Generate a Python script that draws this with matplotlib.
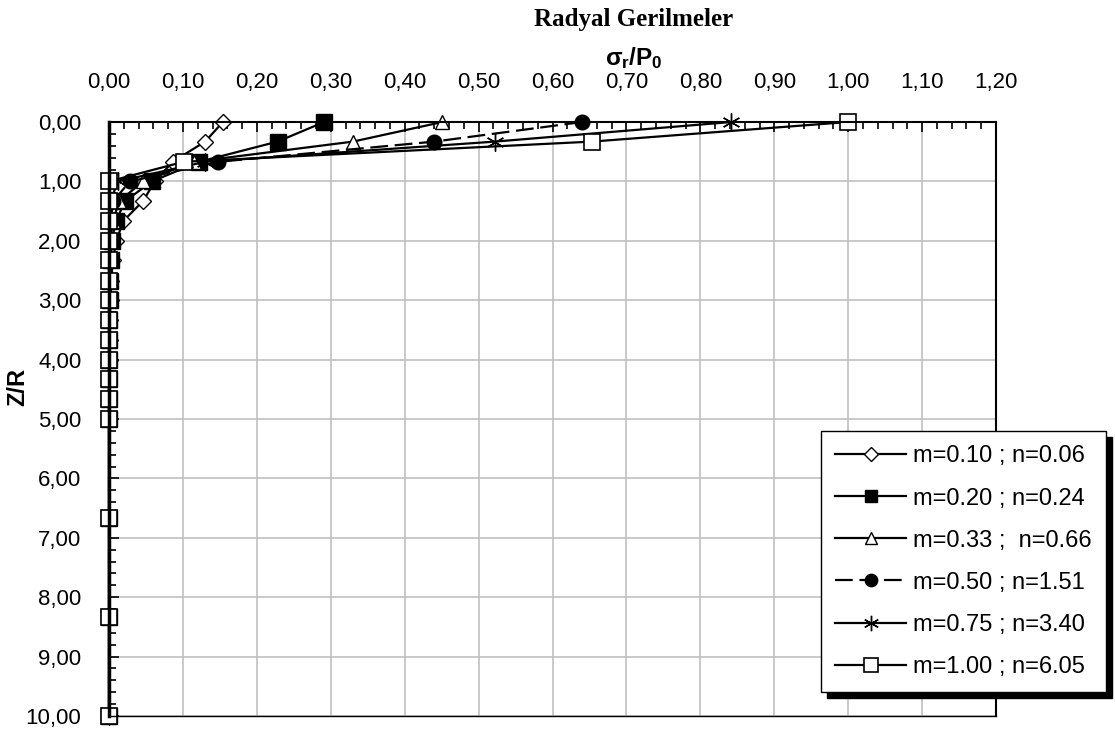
import numpy as np
import matplotlib
matplotlib.use("Agg")
import matplotlib.pyplot as plt
from matplotlib.ticker import MultipleLocator, FuncFormatter

plt.rcParams['font.family'] = ['Liberation Sans', 'DejaVu Sans']
plt.rcParams['mathtext.fontset'] = 'custom'
plt.rcParams['mathtext.rm'] = 'Liberation Sans:bold'
plt.rcParams['mathtext.it'] = 'Liberation Sans:bold'
plt.rcParams['mathtext.bf'] = 'Liberation Sans:bold'

# depth ratio Z/R
z_r = [0.00, 0.33, 0.67, 1.00, 1.33, 1.67, 2.00, 2.33, 2.67, 3.00,
       3.33, 3.67, 4.00, 4.33, 4.67, 5.00, 6.67, 8.33, 10.00]

# radial stress ratio sigma_r / P0 for each (m, n)
s_m010 = [0.154, 0.130, 0.086, 0.062, 0.046, 0.019, 0.010, 0.005, 0.003, 0.002,
          0.001, 0.001, 0.001, 0.000, 0.000, 0.000, 0.000, 0.000, 0.000]
s_m020 = [0.291, 0.228, 0.122, 0.058, 0.022, 0.009, 0.004, 0.002, 0.001, 0.001,
          0.000, 0.000, 0.000, 0.000, 0.000, 0.000, 0.000, 0.000, 0.000]
s_m033 = [0.451, 0.330, 0.115, 0.046, 0.014, 0.005, 0.002, 0.001, 0.000, 0.000,
          0.000, 0.000, 0.000, 0.000, 0.000, 0.000, 0.000, 0.000, 0.000]
s_m050 = [0.640, 0.440, 0.148, 0.028, 0.006, 0.002, 0.001, 0.000, 0.000, 0.000,
          0.000, 0.000, 0.000, 0.000, 0.000, 0.000, 0.000, 0.000, 0.000]
s_m075 = [0.842, 0.522, 0.130, 0.012, 0.002, 0.001, 0.000, 0.000, 0.000, 0.000,
          0.000, 0.000, 0.000, 0.000, 0.000, 0.000, 0.000, 0.000, 0.000]
s_m100 = [1.000, 0.653, 0.101, 0.000, 0.000, 0.000, 0.000, 0.000, 0.000, 0.000,
          0.000, 0.000, 0.000, 0.000, 0.000, 0.000, 0.000, 0.000, 0.000]

labels = ["m=0.10 ; n=0.06", "m=0.20 ; n=0.24", "m=0.33 ;  n=0.66",
          "m=0.50 ; n=1.51", "m=0.75 ; n=3.40", "m=1.00 ; n=6.05"]

fig = plt.figure(figsize=(11.15, 7.31), dpi=100)
ax = fig.add_axes([0.0978, 0.0205, 0.7955, 0.8126])

ax.plot(s_m010, z_r, color='black', lw=1.6, marker='D', ms=8,
        mfc='white', mec='black', mew=1.0, clip_on=False, label=labels[0])
ax.plot(s_m020, z_r, color='black', lw=1.6, marker='s', ms=11,
        mfc='black', mec='black', clip_on=False, label=labels[1])
ax.plot(s_m033, z_r, color='black', lw=1.6, marker='^', ms=9.5,
        mfc='white', mec='black', mew=1.0, clip_on=False, label=labels[2])
ax.plot(s_m050, z_r, color='black', lw=1.6, ls=(0, (8, 3)), marker='o', ms=10.5,
        mfc='black', mec='black', clip_on=False, label=labels[3])
ax.plot(s_m075, z_r, color='black', lw=1.6, marker=(6, 2, 0), ms=13,
        mec='black', mew=1.0, clip_on=False, label=labels[4])
ax.plot(s_m100, z_r, color='black', lw=1.6, marker='s', ms=12,
        mfc='white', mec='black', mew=1.2, clip_on=False, label=labels[5])

ax.set_xlim(0, 1.2)
ax.set_ylim(10, 0)

# axis on top, ticks pointing inward
ax.xaxis.tick_top()
ax.xaxis.set_major_locator(MultipleLocator(0.1))
ax.xaxis.set_minor_locator(MultipleLocator(0.02))
ax.yaxis.set_major_locator(MultipleLocator(1))
ax.yaxis.set_minor_locator(MultipleLocator(0.2))
fmt = FuncFormatter(lambda v, p: f"{v:.2f}".replace('.', ','))
ax.xaxis.set_major_formatter(fmt)
ax.yaxis.set_major_formatter(fmt)
ax.tick_params(axis='x', which='major', direction='in', length=7, width=1.2,
               pad=21, labelsize=16)
ax.tick_params(axis='x', which='minor', direction='in', length=5, width=1.2)
ax.tick_params(axis='y', which='major', direction='in', length=7, width=1.2,
               pad=20, labelsize=16)
ax.tick_params(axis='y', which='minor', direction='in', length=5, width=1.2)

ax.grid(True, which='major', color='#c0c0c0', lw=1.2)
ax.set_axisbelow(True)

ax.spines['left'].set_linewidth(2.5)
ax.spines['top'].set_linewidth(1.5)
ax.spines['right'].set_linewidth(1.5)
ax.spines['bottom'].set_linewidth(1.0)
for s in ax.spines.values():
    s.set_color('black')

fig.text(0.568, 0.974, "Radyal Gerilmeler", family='Liberation Serif',
         fontweight='bold', fontsize=18, ha='center', va='center')
fig.text(0.568, 0.920, r"$\sigma_r/P_0$", fontsize=17.5, ha='center', va='center')
fig.text(0.016, 0.47, "Z/R", fontweight='bold', fontsize=17, rotation=90,
         ha='center', va='center')

leg = ax.legend(loc='lower right', bbox_to_anchor=(1106 / 1115, 1 - 692 / 731),
                bbox_transform=fig.transFigure, fontsize=17, markerscale=0.85,
                frameon=True, fancybox=False, edgecolor='black', framealpha=1,
                shadow={'color': 'black', 'alpha': 1, 'ox': 4, 'oy': -4},
                handlelength=3.0, handletextpad=0.3, labelspacing=0.85,
                borderpad=0.6, borderaxespad=0)
leg.get_frame().set_linewidth(1.0)

plt.savefig("out.png", dpi=100)
plt.close()
